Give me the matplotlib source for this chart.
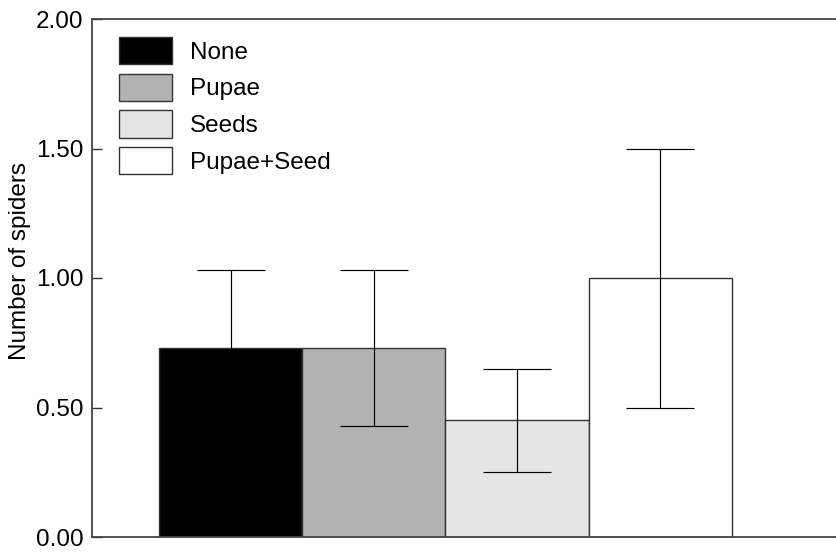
import matplotlib
matplotlib.use("Agg")
import matplotlib.pyplot as plt
import numpy as np

plt.rcParams['font.family'] = ['Liberation Sans', 'DejaVu Sans']

categories = ["None", "Pupae", "Seeds", "Pupae+Seed"]
means = [0.73, 0.73, 0.45, 1.00]
err_lower = [0.30, 0.30, 0.20, 0.50]
err_upper = [0.30, 0.30, 0.20, 0.50]
colors = ["#000000", "#b2b2b2", "#e5e5e5", "#ffffff"]
yticks = [0.0, 0.5, 1.0, 1.5, 2.0]

W, H = 836, 553
fig = plt.figure(figsize=(W / 100, H / 100), dpi=100)
ax = fig.add_axes([92 / W, (H - 537) / H, (W - 92) / W + 0.01, (537 - 19) / H])

x = np.arange(len(categories))
bars = ax.bar(x, means, width=1.0, color=colors, edgecolor="#333333",
              linewidth=1.0, zorder=2)
ax.errorbar(x, means, yerr=[err_lower, err_upper], fmt="none",
            ecolor="#000000", elinewidth=0.85, capthick=0.85, capsize=24.8,
            zorder=3)

ax.set_xlim(-0.969, 4.227 + 0.06)
ax.set_ylim(0, 2.0)
ax.set_yticks(yticks)
ax.set_yticklabels([f"{v:.2f}" for v in yticks])
ax.set_xticks([])
ax.tick_params(axis="y", direction="in", length=7.2, width=1.0,
               color="#333333", labelsize=17.5, pad=6)
ax.set_ylabel("Number of spiders", fontsize=17.5)
ax.yaxis.set_label_coords(-0.081, 0.532)

for s in ["left", "top", "bottom"]:
    ax.spines[s].set_color("#444444")
    ax.spines[s].set_linewidth(1.3)
ax.spines["right"].set_visible(False)

leg = ax.legend(bars, categories, loc="upper left",
                bbox_to_anchor=(119 / W, 1 - 37 / H),
                bbox_transform=fig.transFigure, frameon=False,
                fontsize=17.5, handlelength=2.18, handleheight=1.35,
                labelspacing=0.385, handletextpad=0.74, borderpad=0,
                borderaxespad=0)

fig.savefig("out.png", dpi=100)
